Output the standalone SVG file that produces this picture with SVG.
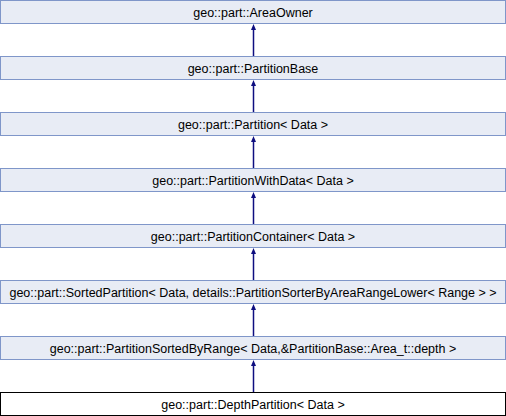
<svg xmlns="http://www.w3.org/2000/svg" width="506" height="416" viewBox="0 0 506 416">
<defs>
<style>
.box{fill:#e8ecf5;stroke:#7f96c9;stroke-width:1}
.cur{fill:#ffffff;stroke:#000000;stroke-width:1}
.lbl{font-family:"Liberation Sans",Arial,sans-serif;font-size:12.5px;fill:#000000;text-anchor:middle}
.edge{stroke:#0e0e80;stroke-width:1.5;fill:none}
.head{fill:#0e0e80}
</style>
</defs>
<g id="bg"><rect x="0" y="0" width="506" height="416" fill="#ffffff"/></g>
<g id="connectors">
<line class="edge" x1="253.5" y1="30" x2="253.5" y2="56"/><polygon class="head" points="253.5,24 251,30 256,30"/>
<line class="edge" x1="253.5" y1="86" x2="253.5" y2="112"/><polygon class="head" points="253.5,80 251,86 256,86"/>
<line class="edge" x1="253.5" y1="142" x2="253.5" y2="168"/><polygon class="head" points="253.5,136 251,142 256,142"/>
<line class="edge" x1="253.5" y1="198" x2="253.5" y2="224"/><polygon class="head" points="253.5,192 251,198 256,198"/>
<line class="edge" x1="253.5" y1="254" x2="253.5" y2="280"/><polygon class="head" points="253.5,248 251,254 256,254"/>
<line class="edge" x1="253.5" y1="310" x2="253.5" y2="336"/><polygon class="head" points="253.5,304 251,310 256,310"/>
<line class="edge" x1="253.5" y1="366" x2="253.5" y2="392"/><polygon class="head" points="253.5,360 251,366 256,366"/>
</g>
<g id="n1"><rect class="box" x="0.5" y="0.5" width="505" height="23"/><text class="lbl" x="253" y="16.5">geo::part::AreaOwner</text></g>
<g id="n2"><rect class="box" x="0.5" y="56.5" width="505" height="23"/><text class="lbl" x="253" y="72.5">geo::part::PartitionBase</text></g>
<g id="n3"><rect class="box" x="0.5" y="112.5" width="505" height="23"/><text class="lbl" x="253" y="128.5">geo::part::Partition&lt; Data &gt;</text></g>
<g id="n4"><rect class="box" x="0.5" y="168.5" width="505" height="23"/><text class="lbl" x="253" y="184.5">geo::part::PartitionWithData&lt; Data &gt;</text></g>
<g id="n5"><rect class="box" x="0.5" y="224.5" width="505" height="23"/><text class="lbl" x="253" y="240.5">geo::part::PartitionContainer&lt; Data &gt;</text></g>
<g id="n6"><rect class="box" x="0.5" y="280.5" width="505" height="23"/><text class="lbl" x="253" y="296.5">geo::part::SortedPartition&lt; Data, details::PartitionSorterByAreaRangeLower&lt; Range &gt; &gt;</text></g>
<g id="n7"><rect class="box" x="0.5" y="336.5" width="505" height="23"/><text class="lbl" x="253" y="352.5">geo::part::PartitionSortedByRange&lt; Data,&amp;PartitionBase::Area_t::depth &gt;</text></g>
<g id="n8"><rect class="cur" x="0.5" y="392.5" width="505" height="23"/><text class="lbl" x="253" y="408.5">geo::part::DepthPartition&lt; Data &gt;</text></g>
</svg>
